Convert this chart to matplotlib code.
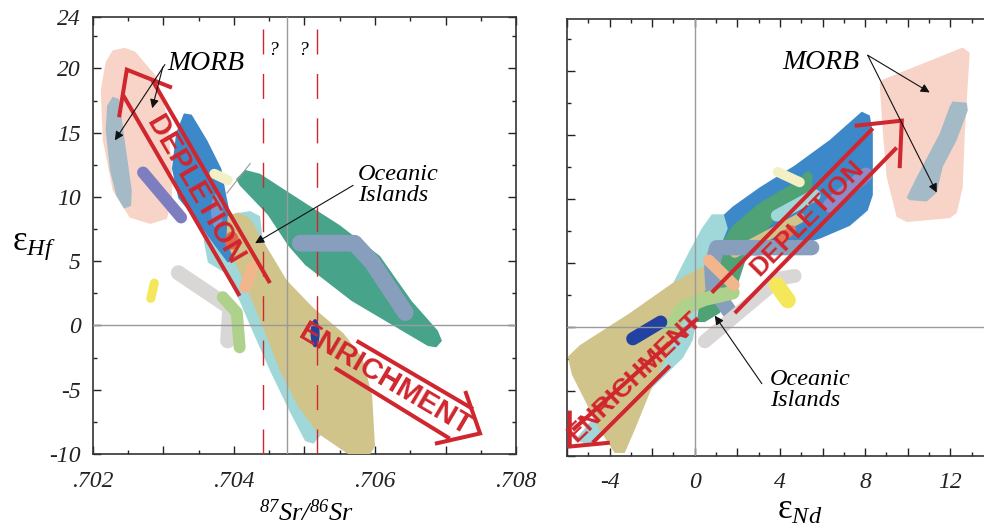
#!/usr/bin/env python3
"""Hf-Sr and Hf-Nd isotope fields of oceanic basalts (two panels)."""

import matplotlib

matplotlib.use("Agg")
import matplotlib.pyplot as plt
from matplotlib.patches import Polygon, Ellipse
from matplotlib.ticker import MultipleLocator, FixedLocator, FuncFormatter

plt.rcParams["font.family"] = ["Liberation Serif", "DejaVu Serif"]
plt.rcParams["font.style"] = "italic"
plt.rcParams["axes.unicode_minus"] = False
plt.rcParams["mathtext.fontset"] = "custom"
plt.rcParams["mathtext.rm"] = "Liberation Serif"
plt.rcParams["mathtext.it"] = "Liberation Serif:italic"
plt.rcParams["mathtext.default"] = "it"

RED = "#D0262E"
GUIDE = "#9A9A9A"

# ---------------- left panel: 87Sr/86Sr vs eHf ----------------
morb_field_sr = [(.70228, 21.4), (.70245, 21.6), (.70260, 21.3), (.70291, 19.3), (.70306, 16.0),
                 (.70312, 12.1), (.70312, 10.0), (.70305, 8.3), (.70281, 7.9), (.70252, 8.4),
                 (.70228, 10.5), (.70214, 14.4), (.70211, 18.3), (.70218, 20.5)]
morb_core_sr = [(.70220, 17.1), (.70228, 17.8), (.70237, 17.6), (.70245, 14.4), (.70255, 10.5),
                (.70254, 9.3), (.70244, 9.1), (.70233, 10.1), (.70224, 12.1), (.70218, 15.2)]
blue_sr = [(.70329, 16.5), (.70340, 16.4), (.70362, 14.4), (.70382, 12.2), (.70389, 10.1),
           (.70401, 7.0), (.70408, 5.2), (.70391, 4.9), (.70373, 6.2), (.70345, 8.3),
           (.70321, 9.9), (.70312, 12.2), (.70318, 15.0)]
cyan_sr = [(.70357, 6.6), (.70366, 8.0), (.70401, 8.7), (.70423, 8.9), (.70437, 8.5), (.70440, 7.0),
           (.70458, 3.5), (.70487, -1.2), (.70511, -5.9), (.70525, -8.4), (.70513, -9.2),
           (.70501, -9.0), (.70479, -6.7), (.70451, -3.5), (.70426, -0.4), (.70408, 1.9),
           (.70387, 4.1), (.70363, 4.9)]
khaki_sr = [(.70391, 8.5), (.70406, 8.8), (.70423, 8.3), (.70441, 6.6), (.70475, 3.5), (.70512, 1.4),
            (.70555, -0.6), (.70582, -2.5), (.70596, -5.5), (.70600, -9.4), (.70590, -10.3),
            (.70567, -10.2), (.70519, -8.4), (.70491, -6.3), (.70465, -3.5), (.70440, 0.0),
            (.70420, 2.7), (.70403, 4.7), (.70389, 6.6)]
teal_sr = [(.70403, 11.4), (.70416, 12.1), (.70437, 11.8), (.70479, 10.3), (.70550, 7.8),
           (.70607, 5.4), (.70652, 1.9), (.70689, -0.4), (.70695, -1.2), (.70687, -1.7),
           (.70675, -1.6), (.70567, 1.9), (.70501, 4.7), (.70477, 6.2), (.70448, 8.6), (.70408, 10.9)]

purple_sr = ([.70271, .70325], [11.9, 8.4])
pale_yellow_sr = ([.70372, .70391], [11.8, 11.3])
slate_sr = ([.70494, .70571, .70596, .70643], [6.4, 6.4, 4.9, 1.0])
grey_sr = ([.70321, .70394, .70391], [4.1, 1.4, -1.2])
green_sr = ([.70384, .70404, .70408], [2.2, 1.0, -1.7])
yellow_sr = ([.70287, .70282], [3.3, 2.1])
peach_sr = ([.70427, .70416], [4.6, 3.0])

orange_spot_sr = (.70397, 6.6, .00020, 1.4)
lavender_spot_sr = (.70376, 8.9, .00017, 2.7)
darkblue_spot_sr = (.70515, -0.6, .000128, 2.2)

bulk_sr = 0.70475
dashed_sr = [0.70441, 0.70518]

# ---------------- right panel: eNd vs eHf ----------------
morb_field_nd = [(8.69, 19.0), (8.83, 19.3), (12.58, 21.8), (12.91, 21.4), (12.68, 15.2), (12.58, 10.9),
                 (12.30, 8.9), (11.97, 8.5), (9.95, 8.2), (9.48, 8.6), (9.01, 11.7), (8.83, 15.2),
                 (8.69, 18.7)]
morb_core_nd = [(12.11, 17.6), (12.77, 17.5), (12.82, 16.9), (12.30, 14.6), (11.64, 12.5), (11.36, 10.5),
                (10.89, 9.8), (10.09, 9.9), (9.95, 10.1), (10.42, 11.7), (11.50, 15.1), (11.97, 17.2)]
blue_nd = [(0.85, 6.8), (0.99, 8.2), (1.78, 9.4), (3.05, 10.9), (4.69, 12.6), (6.34, 14.6), (7.84, 16.8),
           (8.22, 16.5), (8.36, 15.1), (8.36, 10.3), (8.12, 9.1), (7.28, 7.9), (5.87, 6.9), (4.46, 6.2),
           (3.05, 5.6), (1.64, 5.6)]
cyan_nd = [(-5.63, -8.8), (-4.46, -6.5), (-2.58, -3.4), (-1.64, 1.3), (-0.94, 3.7), (-0.23, 6.0),
           (0.33, 7.7), (0.80, 8.8), (1.36, 8.8), (1.55, 7.7), (0.94, 5.2), (0.23, 2.1), (-0.09, -1.0),
           (-0.56, -2.4), (-2.11, -4.9), (-3.99, -8.0), (-4.93, -9.2)]
khaki_nd = [(-5.96, -2.3), (-5.40, -1.4), (-4.46, -0.4), (-3.05, 1.1), (-1.08, 3.4), (0.23, 4.6),
            (1.41, 5.6), (2.35, 6.6), (2.68, 5.9), (1.64, 3.7), (0.23, 1.7), (-0.56, 0.4), (-1.03, -1.2),
            (-1.64, -3.4), (-2.11, -5.1), (-2.82, -8.0), (-3.29, -9.8), (-3.76, -9.8), (-4.46, -8.0),
            (-5.16, -5.7), (-5.77, -3.7)]
green_nd = [(0.09, 0.4), (0.23, 2.1), (0.80, 3.7), (1.03, 6.0), (1.78, 7.9), (3.05, 9.7), (4.60, 11.2),
            (5.31, 12.2), (5.54, 11.9), (5.49, 10.8), (4.93, 9.9), (3.85, 8.6), (3.05, 6.8), (2.44, 5.5),
            (1.97, 3.1), (1.17, 1.1), (0.47, 0.4)]

khaki_stripe_nd = ([1.88, 4.93], [5.8, 8.5])
cyan_patch_nd = ([3.85, 5.63], [8.7, 10.3])
pale_yellow_nd = ([3.90, 4.93], [12.1, 11.3])
purple_nd = ([6.34, 8.03], [9.5, 11.9])
slate_nd = ([5.49, 1.03, 0.80, 0.85, 1.64], [6.2, 6.2, 4.7, 3.1, 1.2])
grey_nd = ([0.47, 3.99, 4.69], [-1.1, 3.8, 4.0])
light_green_nd = ([-1.17, -0.56, 0.47, 1.78], [-0.1, 1.5, 2.2, 2.7])
peach_nd = ([0.66, 1.83], [5.2, 3.3])
orange_nd = ([4.08, 4.55], [6.9, 7.6])
yellow_nd = ([3.85, 4.37], [3.3, 2.1])
darkblue_nd = ([-2.91, -1.60], [-0.9, 0.4])

# colours
C_PINK = "#F7D4C7"
C_MORB = "#A4BAC6"
C_PURPLE = "#7E7DBF"
C_BLUE = "#3D88C8"
C_PALEY = "#F3F1C3"
C_CYAN = "#A0D7D8"
C_KHAKI = "#D1C48A"
C_TEAL = "#48A38B"
C_GREEN2 = "#4EA275"
C_SLATE = "#889EBD"
C_GREY = "#D9D6D6"
C_LGREEN = "#AED18B"
C_YELLOW = "#F4E85A"
C_PEACH = "#F2B68C"
C_ORANGE = "#E2674B"
C_LAV = "#6E9DD6"
C_DBLUE = "#2241A0"


def poly(ax, pts, color, z=2):
    ax.add_patch(Polygon(pts, closed=True, facecolor=color, edgecolor="none", zorder=z))


def band(ax, xy, color, lw, z=3):
    ax.plot(xy[0], xy[1], color=color, lw=lw, solid_capstyle="round",
            solid_joinstyle="round", zorder=z)


def spot(ax, spec, color, z=3):
    x, y, w, h = spec
    ax.add_patch(Ellipse((x, y), w, h, facecolor=color, edgecolor="none", zorder=z))


def red_line(ax, pts):
    xs, ys = zip(*pts)
    ax.plot(xs, ys, color=RED, lw=2.9, solid_capstyle="butt", solid_joinstyle="miter", zorder=7)


def red_word(ax, x, y, word, angle, size):
    ax.text(x, y, word, rotation=angle, rotation_mode="anchor", ha="center", va="center",
            fontsize=size, color=RED, fontweight="bold", style="normal",
            family=["Liberation Sans", "DejaVu Sans"], zorder=8)


def pointer(ax, tail, head):
    ax.annotate("", xy=head, xytext=tail,
                arrowprops=dict(arrowstyle="-|>", color="#111111", lw=0.8, mutation_scale=13,
                                shrinkA=0, shrinkB=0), zorder=8)


def frame(ax):
    for side in ax.spines.values():
        side.set_linewidth(1.2)
        side.set_color("#333333")
    ax.tick_params(which="both", direction="in", top=True, right=True, width=1.0,
                   labelsize=17, colors="#222222")
    ax.tick_params(which="major", length=5.5)
    ax.tick_params(which="minor", length=3)
    ax.tick_params(axis="y", pad=9)
    ax.tick_params(axis="x", pad=12)


fig = plt.figure(figsize=(9.84, 5.29), dpi=100)
axL = fig.add_axes([0.0945, 0.1418, 0.4299, 0.8261])
axR = fig.add_axes([0.5762, 0.1389, 0.4329, 0.8246])

# ---- left ----
ax = axL
ax.set_xlim(0.702, 0.708)
ax.set_ylim(-10, 24)
poly(ax, morb_field_sr, C_PINK)
poly(ax, morb_core_sr, C_MORB)
band(ax, purple_sr, C_PURPLE, 8.6)
poly(ax, cyan_sr, C_CYAN)
poly(ax, blue_sr, C_BLUE)
spot(ax, lavender_spot_sr, C_LAV)
band(ax, pale_yellow_sr, C_PALEY, 7.2)
poly(ax, khaki_sr, C_KHAKI, 3)
spot(ax, orange_spot_sr, C_ORANGE, 4)
band(ax, peach_sr, C_PEACH, 8.6, 4)
poly(ax, teal_sr, C_TEAL, 3)
band(ax, slate_sr, C_SLATE, 12, 4)
band(ax, grey_sr, C_GREY, 10.8, 4)
band(ax, green_sr, C_LGREEN, 8.6, 4)
band(ax, yellow_sr, C_YELLOW, 6.5, 4)
spot(ax, darkblue_spot_sr, C_DBLUE, 4)

ax.axvline(bulk_sr, color=GUIDE, lw=1.0, zorder=5)
ax.axhline(0, color=GUIDE, lw=1.0, zorder=5)
for xv in dashed_sr:
    ax.axvline(xv, ymax=0.985, color=RED, lw=1.0, dashes=(18, 14), zorder=6)
ax.text(0.70455, 21.4, "?", fontsize=14, ha="center", va="center")
ax.text(0.70498, 21.4, "?", fontsize=14, ha="center", va="center")

red_line(ax, [(.70237, 16.2), (.70248, 19.9), (.70312, 18.5)])
red_line(ax, [(.70243, 17.9), (.70408, 2.3)])
red_line(ax, [(.70284, 19.1), (.70451, 3.3)])
red_word(ax, 0.70345, 10.5, "DEPLETION", -59.7, 21)

red_line(ax, [(.70728, -5.1), (.70749, -8.4), (.70685, -9.2)])
red_line(ax, [(.70574, -1.2), (.70739, -6.5)])
red_line(ax, [(.70543, -3.3), (.70706, -8.8)])
red_word(ax, 0.70614, -4.2, "ENRICHMENT", -30.5, 21)

ax.text(0.70305, 20.4, "MORB", fontsize=20, ha="left", va="center", zorder=8)
pointer(ax, (.70302, 20.3), (.70231, 14.4))
pointer(ax, (.70299, 20.1), (.70284, 16.9))
ax.text(0.70576, 10.9, "Oceanic\nIslands", fontsize=17.5, ha="left", va="center",
        linespacing=1.0, zorder=8)
pointer(ax, (.70569, 10.9), (.70430, 6.4))
ax.plot([.70423, .70390], [12.6, 10.3], color=GUIDE, lw=0.8, zorder=8)

ax.xaxis.set_major_locator(MultipleLocator(0.001))
ax.xaxis.set_minor_locator(MultipleLocator(0.0005))
ax.xaxis.set_major_formatter(FuncFormatter(
    lambda v, p: ("%.3f" % v)[1:] if round(v * 1000) % 2 == 0 else ""))
ax.yaxis.set_major_locator(FixedLocator([-10, -5, 0, 5, 10, 15, 20, 24]))
ax.yaxis.set_minor_locator(MultipleLocator(2.5))
ax.yaxis.set_major_formatter(FuncFormatter(lambda v, p: "%g" % v))
frame(ax)

# ---- right ----
ax = axR
ax.set_xlim(-6, 14)
ax.set_ylim(-10, 24)
poly(ax, morb_field_nd, C_PINK)
poly(ax, morb_core_nd, C_MORB)
poly(ax, blue_nd, C_BLUE)
band(ax, purple_nd, "#8C8CC8", 10)
poly(ax, cyan_nd, C_CYAN, 3)
poly(ax, khaki_nd, C_KHAKI, 3)
poly(ax, green_nd, C_GREEN2, 3)
band(ax, khaki_stripe_nd, C_KHAKI, 7.2, 4)
band(ax, cyan_patch_nd, C_CYAN, 8.6, 4)
band(ax, pale_yellow_nd, C_PALEY, 7.2, 4)
band(ax, slate_nd, C_SLATE, 11, 4)
band(ax, grey_nd, C_GREY, 10, 4)
band(ax, light_green_nd, C_LGREEN, 10, 4)
band(ax, peach_nd, C_PEACH, 8.6, 4)
band(ax, orange_nd, "#E07B5B", 6.5, 4)
band(ax, yellow_nd, C_YELLOW, 11.5, 4)
band(ax, darkblue_nd, C_DBLUE, 9.5, 4)

ax.axvline(0, color=GUIDE, lw=1.0, zorder=5)
ax.axhline(0, color=GUIDE, lw=1.0, zorder=5)

red_line(ax, [(7.51, 15.7), (9.72, 16.1), (9.62, 12.4)])
red_line(ax, [(0.80, 2.7), (8.36, 15.5)])
red_line(ax, [(1.88, 1.1), (9.48, 14.0)])
red_word(ax, 5.26, 8.5, "DEPLETION", 45.5, 19)

red_line(ax, [(-5.87, -6.5), (-5.87, -9.3), (-3.99, -9.0)])
red_line(ax, [(-5.73, -8.0), (0.14, 0.7)])
red_line(ax, [(-4.79, -9.0), (-1.17, -3.0)])
red_word(ax, -2.82, -3.9, "ENRICHMENT", 44, 19)

ax.text(5.92, 20.6, "MORB", fontsize=20, ha="center", va="center", zorder=8)
pointer(ax, (8.12, 21.2), (11.03, 18.3))
pointer(ax, (8.12, 21.2), (11.36, 10.5))
ax.text(3.52, -4.9, "Oceanic\nIslands", fontsize=17.5, ha="left", va="center",
        linespacing=1.0, zorder=8)
pointer(ax, (3.15, -4.4), (0.94, 0.9))

ax.xaxis.set_major_locator(MultipleLocator(2))
ax.xaxis.set_minor_locator(MultipleLocator(1))
ax.xaxis.set_major_formatter(FuncFormatter(
    lambda v, p: "%d" % round(v) if round(v) % 4 == 0 else ""))
ax.yaxis.set_major_locator(MultipleLocator(5))
ax.yaxis.set_minor_locator(MultipleLocator(2.5))
ax.yaxis.set_major_formatter(FuncFormatter(lambda v, p: ""))
frame(ax)

# axis titles
fig.text(0.311, 0.016, r"$^{87}Sr/^{86}Sr$", fontsize=19, ha="center", va="baseline")
fig.text(0.813, 0.02, r"ε$_{Nd}$", fontsize=25, ha="center", va="baseline", style="normal")
fig.text(0.012, 0.527, r"ε$_{Hf}$", fontsize=25, ha="left", va="baseline", style="normal")

fig.savefig("out.png", dpi=100, facecolor="white")
